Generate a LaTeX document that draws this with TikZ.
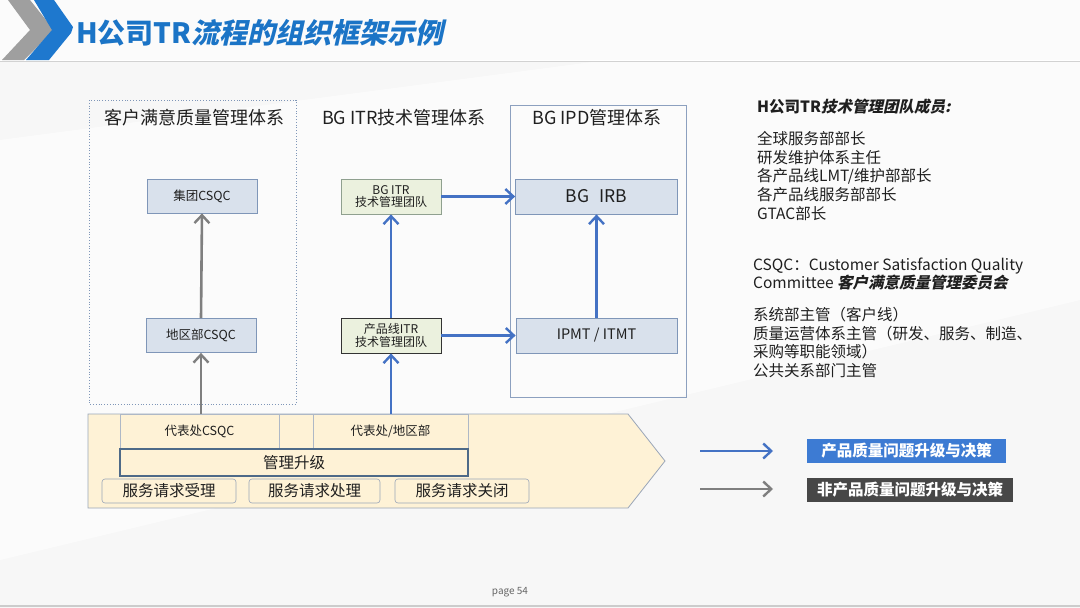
\documentclass[tikz,border=0pt]{standalone}
\usepackage{fontspec}
\usetikzlibrary{arrows.meta,positioning}
\setmainfont{Noto Sans CJK SC}
\newfontfamily\cjk{Noto Sans CJK SC}
\newfontfamily\cjksl[FakeSlant=0.22]{Noto Sans CJK SC}
\definecolor{titleblue}{HTML}{1B74C6}
\definecolor{chevblue}{HTML}{1E78CE}
\definecolor{arrblue}{HTML}{4472C4}
\definecolor{arrgrey}{HTML}{7F7F7F}
\definecolor{boxfill}{HTML}{D9E1EC}
\definecolor{boxline}{HTML}{7F96B8}
\definecolor{grnfill}{HTML}{EBF1DE}
\definecolor{grnline}{HTML}{8FA08F}
\definecolor{cream}{HTML}{FEF2D6}
\definecolor{pentline}{HTML}{9AA6B8}
\definecolor{mgmt}{HTML}{4E6A88}
\definecolor{legblue}{HTML}{3D7BD3}
\definecolor{legdark}{HTML}{474747}
\definecolor{txt}{HTML}{1F1F1F}
\tikzset{
  fs/.style={font=\fontsize{#1}{#1}\selectfont},
  bluebox/.style={draw=boxline, fill=boxfill, line width=0.8pt, minimum width=110pt, minimum height=34pt, inner sep=1pt, text=txt},
  grnbox/.style={draw=grnline, fill=grnfill, line width=0.8pt, minimum width=100pt, minimum height=35pt, inner sep=1pt, align=center, text=txt, font=\fontsize{12}{13.5}\selectfont},
  irbbox/.style={draw=boxline, fill=boxfill, line width=0.8pt, minimum width=162pt, minimum height=35pt, inner sep=1pt, text=txt},
  barr/.style={draw=arrblue, line width=2.6pt, -{Straight Barb[length=8pt,width=15pt,line width=2.4pt]}},
  garr/.style={draw=arrgrey, line width=2.6pt, -{Straight Barb[length=8pt,width=15pt,line width=2.4pt]}},
  cell/.style={draw=pentline!80, line width=0.6pt, minimum height=35pt, inner sep=0pt, text=txt, font=\fontsize{12.5}{14}\selectfont},
  svc/.style={draw=pentline, rounded corners=3pt, line width=0.6pt, minimum width=133pt, minimum height=24pt, inner sep=0pt, text=txt, font=\fontsize{15.5}{17}\selectfont},
  paneltitle/.style={text=txt, font=\fontsize{18}{20}\selectfont},
  legbox/.style={minimum height=24pt, inner sep=0pt, text=white, font=\bfseries\fontsize{15.5}{17}\selectfont},
  sidetext/.style={anchor=west, inner sep=0pt, text=txt, align=left, font=\fontsize{15.5}{18.6}\selectfont}
}
\begin{document}
\begin{tikzpicture}[x=1pt,y=-1pt]
\useasboundingbox (0,0) rectangle (1080,608);
% background
\fill[white] (0,0) rectangle (1080,608);
\fill[gray!6] (0,61) rectangle (1080,608);
\fill[white,opacity=0.6] (0,140) -- (600,61) -- (1080,61) -- (1080,300) -- (0,560) -- cycle;
\fill[gray!3] (0,0) rectangle (1080,60);
\draw[gray!35, line width=1pt] (0,61) -- (1080,61);
\draw[gray!40, line width=2pt] (0,606) -- (1080,606);
% header chevrons
\fill[gray!75] (8,0) -- (30,0) -- (54,30) -- (24,60) -- (2,60) -- (30,30) -- cycle;
\fill[chevblue] (34,0) -- (54,0) -- (73,27) -- (71,33) -- (49,60) -- (26,60) -- (52,30) -- cycle;
\node[anchor=west, text=titleblue, inner sep=0pt] (title) at (76,33)
  {\fontsize{28}{30}\selectfont\bfseries H公司TR{\cjksl\bfseries 流程的组织框架示例}};
% panels
\draw[boxline, dotted, line width=0.8pt] (89,100) rectangle (296,404);
\draw[boxline!90, line width=0.8pt] (510,105) rectangle (686,397);
\node[paneltitle] (t1) at (194,118) {客户满意质量管理体系};
\node[paneltitle] (t2) at (404,118) {BG ITR技术管理体系};
\node[paneltitle] (t3) at (597,118) {BG IPD管理体系};
% boxes
\node[bluebox, fs=12.5] (jt) at (202,196) {集团CSQC};
\node[bluebox, fs=12.5] (dq) at (201,335.5) {地区部CSQC};
\node[grnbox] (bgitr) at (391,196.5) {BG ITR\\[-1pt]技术管理团队};
\node[grnbox, draw=black!80] (cpx) at (391,335.5) {产品线ITR\\[-1pt]技术管理团队};
\node[irbbox, fs=17.5] (irb) at (596.5,196.5) {BG\hspace{0.6em}IRB};
\node[irbbox, fs=14.5, minimum width=161pt] (ipmt) at (596.5,335.5) {IPMT / ITMT};
% pentagon
\draw[pentline, fill=cream, line width=0.8pt] (88,414) -- (628,414) -- (665,461) -- (628,508) -- (88,508) -- cycle;
\node[cell, minimum width=159pt] (c1) at (199.5,431.5) {代表处CSQC};
\node[cell, minimum width=34pt] (c2) at (296,431.5) {};
\node[cell, minimum width=155pt] (c3) at (390.5,431.5) {代表处/地区部};
\node[draw=mgmt, line width=1.6pt, minimum width=348pt, minimum height=27pt, inner sep=0pt, text=txt, fs=15.5] (mg) at (294,462.5) {管理升级};
\node[svc, minimum width=134pt] (s1) at (169,491) {服务请求受理};
\node[svc, minimum width=131pt] (s2) at (314.5,491) {服务请求处理};
\node[svc, minimum width=134pt] (s3) at (462,491) {服务请求关闭};
% arrows
\draw[garr] (c1.north -| dq.south) -- (dq.south);
\draw[garr] (dq.north) -- (jt.south);
\draw[barr] (c3.north -| cpx.south) -- (cpx.south);
\draw[barr] (cpx.north) -- (bgitr.south);
\draw[barr] (bgitr.east) -- (irb.west);
\draw[barr] (cpx.east) -- (ipmt.west);
\draw[barr] (ipmt.north) -- (irb.south);
% legend
\coordinate (l1a) at (700,451);
\coordinate (l1b) at (773,451);
\coordinate (l2a) at (700,489);
\coordinate (l2b) at (773,489);
\draw[barr, line width=2.2pt] (l1a) -- (l1b);
\draw[garr, line width=2.2pt] (l2a) -- (l2b);
\node[legbox, fill=legblue, minimum width=199pt] (lg1) at (906.5,451) {产品质量问题升级与决策};
\node[legbox, fill=legdark, minimum width=206pt] (lg2) at (910,490) {非产品质量问题升级与决策};
% right text
\node[anchor=west, inner sep=0pt, text=txt] (rt1) at (757,107) {\fontsize{15.5}{18}\selectfont\bfseries H公司TR{\cjksl\bfseries 技术管理团队成员:}};
\node[sidetext] (rt2) at (757,176)
  {全球服务部部长\\ 研发维护体系主任\\ 各产品线LMT/维护部部长\\ 各产品线服务部部长\\ GTAC部长};
\node[sidetext] (rt3) at (753,274)
  {CSQC：Customer Satisfaction Quality\\ Committee {\cjksl\bfseries 客户满意质量管理委员会}};
\node[sidetext] (rt4) at (753,342.5)
  {系统部主管（客户线）\\ 质量运营体系主管（研发、服务、制造、\\ 采购等职能领域）\\ 公共关系部门主管};
\node[text=gray!80!black, fs=10] (pg) at (510,592) {page 54};
\end{tikzpicture}
\end{document}
